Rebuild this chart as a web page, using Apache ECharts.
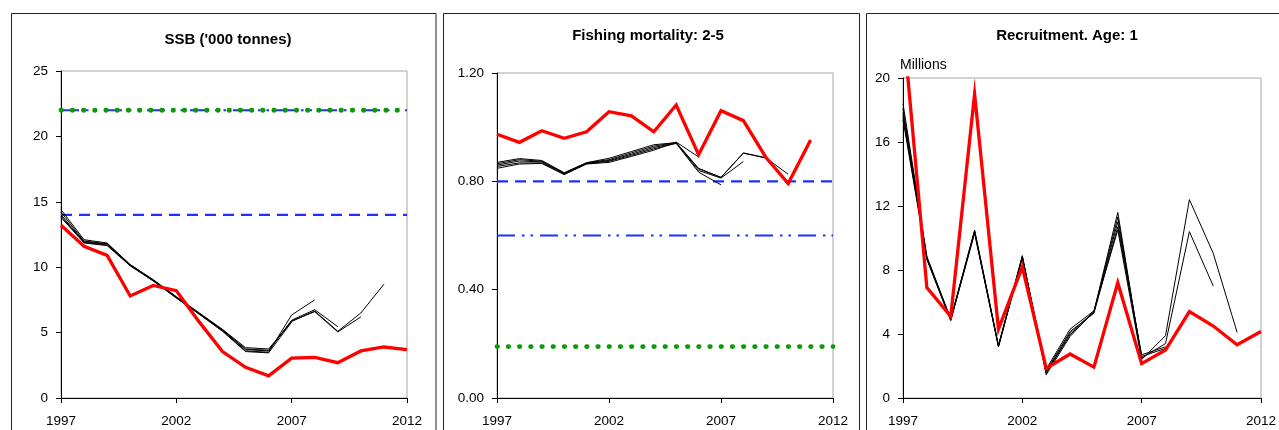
<!DOCTYPE html>
<html>
<head>
<meta charset="utf-8">
<script src="https://cdn.jsdelivr.net/npm/echarts@6/dist/echarts.min.js"></script>
<style>
  html, body { margin: 0; padding: 0; background: #fff; }
  #chart { width: 1279px; height: 430px; }
</style>
</head>
<body>
<div id="chart"></div>
<script>
// Years on the x axis
const years = ['1997','1998','1999','2000','2001','2002','2003','2004','2005','2006','2007','2008','2009','2010','2011','2012'];

// Spawning stock biomass ('000 t): latest assessment and retrospective peels
const ssbAssessment = [13.2, 11.6, 10.9, 7.8, 8.6, 8.2, 5.8, 3.55, 2.35, 1.7, 3.05, 3.1, 2.7, 3.6, 3.9, 3.7];
const ssbRetro2011 = [14.4, 12.1, 11.85, 10.2, 9.05, 7.75, 6.5, 5.25, 3.85, 3.75, 5.85, 6.65, 5.1, 6.5, 8.7];
const ssbRetro2010 = [14.2, 12.0, 11.8, 10.2, 9.0, 7.7, 6.45, 5.2, 3.75, 3.65, 5.9, 6.6, 5.05, 6.2];
const ssbRetro2009 = [14.0, 11.95, 11.75, 10.15, 9.0, 7.7, 6.45, 5.2, 3.7, 3.6, 5.95, 6.75, 5.45];
const ssbRetro2008 = [13.9, 11.9, 11.7, 10.15, 8.95, 7.65, 6.4, 5.15, 3.6, 3.5, 6.35, 7.5];
const ssbRetro2007 = [13.8, 11.85, 11.65, 10.1, 8.95, 7.65, 6.4, 5.1, 3.55, 3.45, 5.8];
// SSB reference points
const ssbBpa = 14;
const ssbBlim = 22;
const ssbTarget = 22;

// Fishing mortality (ages 2-5)
const fAssessment = [0.974, 0.944, 0.987, 0.959, 0.983, 1.057, 1.042, 0.983, 1.082, 0.898, 1.061, 1.024, 0.889, 0.792, 0.953];
const fRetro2010 = [0.870, 0.884, 0.877, 0.832, 0.869, 0.885, 0.910, 0.935, 0.943, 0.848, 0.814, 0.905, 0.887, 0.826];
const fRetro2009 = [0.865, 0.880, 0.874, 0.830, 0.868, 0.880, 0.905, 0.930, 0.943, 0.846, 0.815, 0.904, 0.886];
const fRetro2008 = [0.860, 0.875, 0.872, 0.828, 0.866, 0.877, 0.900, 0.925, 0.942, 0.840, 0.812, 0.873];
const fRetro2007 = [0.855, 0.868, 0.868, 0.826, 0.865, 0.874, 0.896, 0.920, 0.940, 0.834, 0.787];
const fRetro2006 = [0.848, 0.864, 0.866, 0.825, 0.864, 0.870, 0.892, 0.915, 0.945, 0.890];
// F reference points
const fPa = 0.8;
const fLim = 0.6;
const fTarget = 0.19;

// Recruitment at age 1 (millions)
const recAssessment = [23.4, 6.9, 5.1, 19.0, 4.3, 8.2, 1.85, 2.75, 1.93, 7.2, 2.15, 3.0, 5.4, 4.5, 3.33, 4.16];
const recRetro2011 = [18.4, 8.85, 4.95, 10.5, 3.3, 8.9, 1.45, 3.85, 5.4, 11.6, 2.4, 3.9, 12.4, 9.04, 4.1];
const recRetro2010 = [18.1, 8.8, 4.9, 10.45, 3.25, 8.85, 1.55, 3.95, 5.35, 11.3, 2.5, 3.4, 10.4, 7.0];
const recRetro2009 = [17.8, 8.75, 4.9, 10.4, 3.25, 8.8, 1.6, 4.05, 5.4, 11.0, 2.6, 3.1, 5.4];
const recRetro2008 = [17.6, 8.7, 4.85, 10.35, 3.2, 8.8, 1.7, 4.15, 5.3, 10.7, 2.7, 3.2];
const recRetro2007 = [17.4, 8.65, 4.85, 10.3, 3.2, 8.75, 1.8, 4.3, 5.45, 10.5, 2.35];

// Panel titles
const titles = ["SSB ('000 tonnes)", 'Fishing mortality: 2-5', 'Recruitment. Age: 1'];

const FONT = '"Liberation Sans", Arial, Helvetica, sans-serif';
const RED = '#ff0000';
const BLUE = '#1f2fff';
const GREEN = '#0c9a0c';
const DASHED = [11, 7];
const DASH_DOT_DOT = [18, 7, 2.5, 6, 2.5, 7];
const DOTTED = [0.5, 10.7];

const chart = echarts.init(document.getElementById('chart'), null, { renderer: 'canvas' });

const grids = [
  { left: 61, top: 71, width: 346, height: 327 },
  { left: 497, top: 73, width: 336, height: 325 },
  { left: 903, top: 78, width: 363, height: 320 }
].map(g => Object.assign({
  show: true, borderColor: '#a6a6a6', borderWidth: 1, backgroundColor: '#fff', containLabel: false
}, g));

function xAxisFor(i) {
  return {
    type: 'category', gridIndex: i, data: years, boundaryGap: false,
    axisLine: { lineStyle: { color: '#000', width: 1 } },
    axisTick: { interval: 4, length: 5, lineStyle: { color: '#000' } },
    axisLabel: { interval: 4, margin: 16, color: '#000', fontSize: 13.5, fontFamily: FONT },
    splitLine: { show: false }
  };
}
function yAxisFor(i, max, interval, fmt) {
  return {
    type: 'value', gridIndex: i, min: 0, max: max, interval: interval,
    axisLine: { show: true, lineStyle: { color: '#000', width: 1 } },
    axisTick: { show: true, length: 5, lineStyle: { color: '#000' } },
    axisLabel: { margin: 13, color: '#000', fontSize: 13.5, fontFamily: FONT, formatter: fmt },
    splitLine: { show: false }
  };
}
function line(gi, data, color, width, type, z, cap) {
  return {
    type: 'line', xAxisIndex: gi, yAxisIndex: gi, data: data,
    showSymbol: false, symbol: 'none', clip: true, z: z, silent: true,
    lineStyle: { color: color, width: width, type: type || 'solid', cap: cap || 'butt', join: 'miter' }
  };
}
const flat = v => years.map(() => v);

const series = [
  // SSB
  line(0, flat(ssbBpa), BLUE, 2.2, DASHED, 2),
  line(0, flat(ssbBlim), BLUE, 2.2, DASH_DOT_DOT, 2),
  line(0, flat(ssbTarget), GREEN, 4.8, DOTTED, 3, 'round'),
  line(0, ssbRetro2007, '#000', 1, 'solid', 4),
  line(0, ssbRetro2008, '#000', 1, 'solid', 4),
  line(0, ssbRetro2009, '#000', 1, 'solid', 4),
  line(0, ssbRetro2010, '#000', 1, 'solid', 4),
  line(0, ssbRetro2011, '#000', 1, 'solid', 4),
  line(0, ssbAssessment, RED, 3.3, 'solid', 5),
  // Fishing mortality
  line(1, flat(fPa), BLUE, 2.2, DASHED, 2),
  line(1, flat(fLim), BLUE, 2.2, DASH_DOT_DOT, 2),
  line(1, flat(fTarget), GREEN, 4.8, DOTTED, 3, 'round'),
  line(1, fRetro2006, '#000', 1, 'solid', 4),
  line(1, fRetro2007, '#000', 1, 'solid', 4),
  line(1, fRetro2008, '#000', 1, 'solid', 4),
  line(1, fRetro2009, '#000', 1, 'solid', 4),
  line(1, fRetro2010, '#000', 1, 'solid', 4),
  line(1, fAssessment, RED, 3.3, 'solid', 5),
  // Recruitment
  line(2, recRetro2007, '#000', 1, 'solid', 4),
  line(2, recRetro2008, '#000', 1, 'solid', 4),
  line(2, recRetro2009, '#000', 1, 'solid', 4),
  line(2, recRetro2010, '#000', 1, 'solid', 4),
  line(2, recRetro2011, '#000', 1, 'solid', 4),
  line(2, recAssessment, RED, 3.3, 'solid', 5)
];

const frame = (x, w) => ({
  type: 'rect', z: -10, silent: true,
  shape: { x: x, y: 13.5, width: w, height: 440 },
  style: { fill: '#fff', stroke: '#222', lineWidth: 1 }
});
const titleText = (x, y, text) => ({
  type: 'text', z: 10, silent: true, x: x, y: y,
  style: {
    text: text, fill: '#000', font: 'bold 15px ' + FONT,
    align: 'center', textAlign: 'center', verticalAlign: 'middle', textVerticalAlign: 'middle'
  }
});

chart.setOption({
  animation: false,
  backgroundColor: '#fff',
  grid: grids,
  xAxis: [xAxisFor(0), xAxisFor(1), xAxisFor(2)],
  yAxis: [
    yAxisFor(0, 25, 5, v => String(v)),
    yAxisFor(1, 1.2, 0.4, v => v.toFixed(2)),
    yAxisFor(2, 20, 4, v => String(v))
  ],
  series: series,
  graphic: [
    frame(11.5, 424.5),
    frame(443.5, 416),
    frame(866.5, 430),
    titleText(228, 40, titles[0]),
    titleText(648, 36, titles[1]),
    titleText(1067, 36, titles[2]),
    {
      type: 'text', z: 10, silent: true, x: 900, y: 65,
      style: { text: 'Millions', fill: '#000', font: '14px ' + FONT,
        align: 'left', textAlign: 'left', verticalAlign: 'middle', textVerticalAlign: 'middle' }
    }
  ]
});
</script>
</body>
</html>
